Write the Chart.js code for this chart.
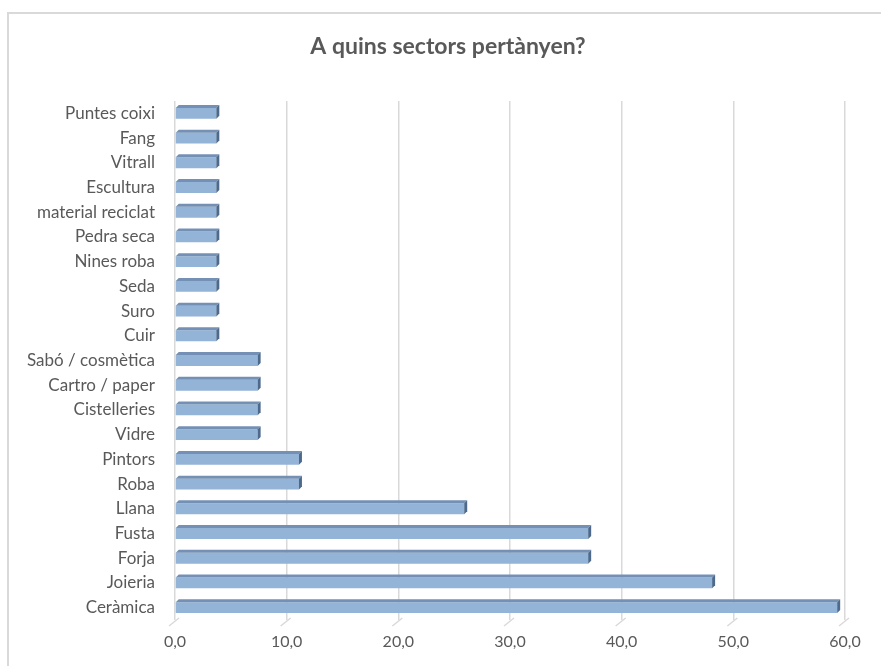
<!DOCTYPE html>
<html>
<head>
<meta charset="utf-8">
<script src="https://cdn.jsdelivr.net/npm/chart.js@4/dist/chart.umd.min.js"></script>
<style>
  body { margin: 0; background: #fff; }
  #wrap { position: relative; width: 881px; height: 666px; }
  #frame { position: absolute; left: 7px; top: 12px; width: 900px; height: 700px;
           border-left: 2px solid #d9d9d9; border-top: 2px solid #d9d9d9; pointer-events: none; }
</style>
</head>
<body>
<div id="wrap">
  <canvas id="chart" width="881" height="666"></canvas>
  <div id="frame"></div>
</div>
<script>
// data (percent of answers)
const sectors = ['Puntes coixi', 'Fang', 'Vitrall', 'Escultura', 'material reciclat', 'Pedra seca',
  'Nines roba', 'Seda', 'Suro', 'Cuir', 'Sabó / cosmètica', 'Cartro / paper', 'Cistelleries',
  'Vidre', 'Pintors', 'Roba', 'Llana', 'Fusta', 'Forja', 'Joieria', 'Ceràmica'];
const percents = [3.7, 3.7, 3.7, 3.7, 3.7, 3.7, 3.7, 3.7, 3.7, 3.7, 7.4, 7.4, 7.4, 7.4,
  11.1, 11.1, 25.9, 37.0, 37.0, 48.1, 59.3];
const xTicks = [0, 10, 20, 30, 40, 50, 60];
const titleText = 'A quins sectors pertànyen?';

const depth = 3;

// title centred over the whole frame, not the canvas minus padding
const frameTitle = {
  id: 'frameTitle',
  afterDraw(chart) {
    const ctx = chart.ctx;
    ctx.save();
    ctx.fillStyle = '#595959';
    ctx.font = 'bold 23px Lato';
    ctx.textAlign = 'center';
    ctx.textBaseline = 'middle';
    ctx.fillText(titleText, 448, 47);
    ctx.restore();
  }
};

// fake 3d look: top and right faces of each bar + slanted floor ticks
const bar3d = {
  id: 'bar3d',
  beforeDatasetsDraw(chart) {
    const { ctx, chartArea, scales } = chart;
    ctx.save();
    ctx.strokeStyle = '#d9d9d9';
    ctx.lineWidth = 1.5;
    xTicks.forEach(t => {
      const x = scales.x.getPixelForValue(t);
      ctx.beginPath();
      ctx.moveTo(x + depth + 1, chartArea.bottom - 2);
      ctx.lineTo(x - 6, chartArea.bottom + 6);
      ctx.stroke();
    });
    ctx.restore();
  },
  afterDatasetsDraw(chart) {
    const { ctx } = chart;
    chart.getDatasetMeta(0).data.forEach(b => {
      const top = b.y - b.height / 2, bot = b.y + b.height / 2;
      ctx.save();
      ctx.fillStyle = '#7491b5';
      ctx.beginPath();
      ctx.moveTo(b.base, top);
      ctx.lineTo(b.base + depth, top - depth);
      ctx.lineTo(b.x + depth, top - depth);
      ctx.lineTo(b.x, top);
      ctx.closePath();
      ctx.fill();
      ctx.fillStyle = '#4d6a8c';
      ctx.beginPath();
      ctx.moveTo(b.x, top);
      ctx.lineTo(b.x + depth, top - depth);
      ctx.lineTo(b.x + depth, bot - depth);
      ctx.lineTo(b.x, bot);
      ctx.closePath();
      ctx.fill();
      ctx.restore();
    });
  }
};

new Chart(document.getElementById('chart'), {
  type: 'bar',
  data: {
    labels: sectors,
    datasets: [{
      data: percents,
      backgroundColor: '#93b3d7',
      borderWidth: 0,
      barPercentage: 0.44,
      categoryPercentage: 1
    }]
  },
  options: {
    indexAxis: 'y',
    responsive: false,
    animation: false,
    layout: { padding: { top: 101, right: 36, bottom: 0, left: 0 } },
    plugins: {
      legend: { display: false },
      tooltip: { enabled: false },
      title: { display: false }
    },
    scales: {
      x: {
        min: 0, max: 60,
        afterFit: s => { s.height = 46; },
        afterBuildTicks: s => { s.ticks = xTicks.map(v => ({ value: v })); },
        grid: { color: '#d9d9d9', lineWidth: 1.5, drawTicks: false, offset: false },
        border: { display: false },
        ticks: {
          padding: 12,
          color: '#595959',
          font: { family: 'Lato', size: 16 },
          callback: v => v.toFixed(1).replace('.', ',')
        }
      },
      y: {
        afterFit: s => { s.width = 175; },
        grid: { display: false },
        border: { display: false },
        ticks: {
          padding: 12,
          color: '#595959',
          font: { family: 'Lato', size: 17 },
          autoSkip: false
        }
      }
    }
  },
  plugins: [bar3d, frameTitle]
});
</script>
</body>
</html>
